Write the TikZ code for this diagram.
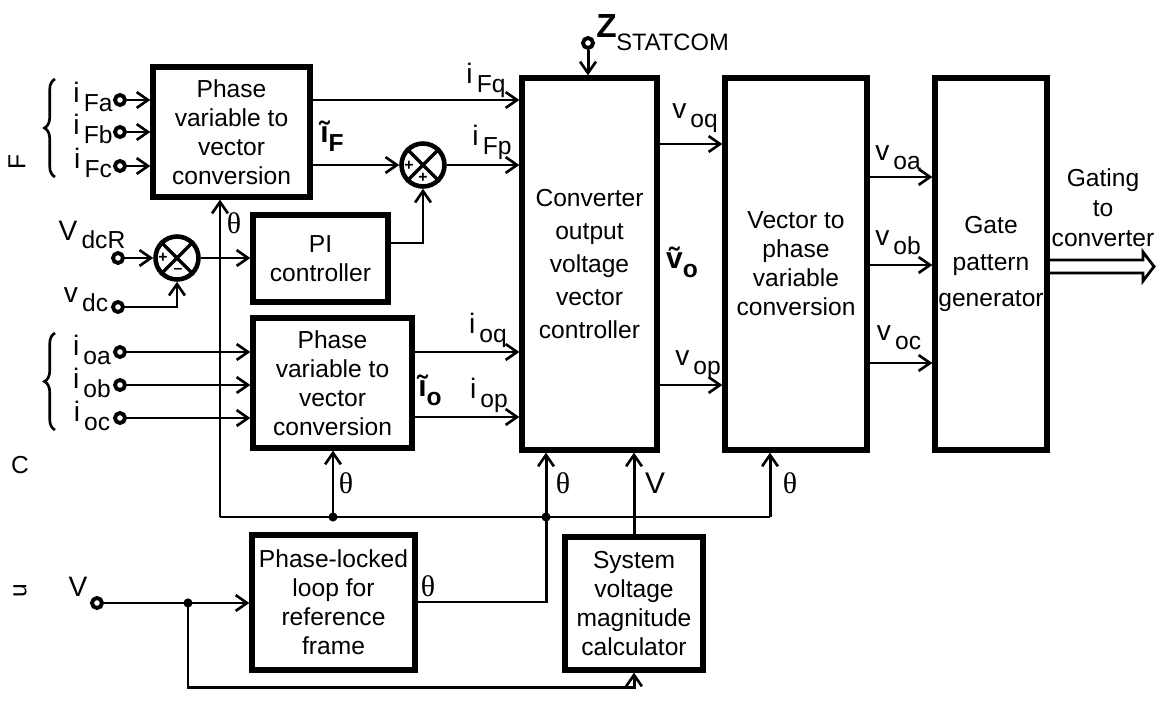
\documentclass[tikz,border=0pt]{standalone}
\usepackage{fontspec}
\setmainfont{Liberation Sans}
\newfontfamily\serifth{Liberation Serif}
\usetikzlibrary{arrows.meta,decorations.pathreplacing,calc}
\newcommand\lbl[2]{{\fontsize{16}{18}\selectfont #1}\,\raisebox{-5pt}{\fontsize{14}{16}\selectfont #2}}
\newcommand\tlbl[2]{{\fontsize{17}{18}\selectfont #1}\raisebox{-5pt}{\fontsize{14}{16}\selectfont #2}}
\newcommand\thet{{\serifth\fontsize{17}{19}\selectfont θ}}
\begin{document}
\begin{tikzpicture}[x=0.02cm,y=-0.02cm,
  box/.style={draw, line width=3pt, align=center, inner sep=0pt, font=\fontsize{14}{16.5}\selectfont},
  wire/.style={line width=1.7pt},
  thin/.style={line width=1.2pt},
  arr/.style={-{Straight Barb[length=6.5pt,width=9pt,line width=1.5pt]}},
  term/.style={circle, draw, line width=2.2pt, fill=white, minimum size=0.2cm, inner sep=0pt},
  junc/.style={circle, draw, line width=2.6pt, minimum size=0.86cm, inner sep=0pt},
  lab/.style={inner sep=0pt, font=\fontsize{14}{16.5}\selectfont},
  sign/.style={inner sep=0pt, font=\bfseries\fontsize{9}{10}\selectfont},
  brc/.style={line width=1.5pt, decorate, decoration={brace, amplitude=6pt}}]
\useasboundingbox (0,0) rectangle (1156,713);

% boxes
\node[box, minimum width=3.14cm, minimum height=2.6cm] (b1) at (231.5,132) {Phase\\variable to\\vector\\conversion};
\node[box, minimum width=2.7cm, minimum height=1.74cm] (pi) at (320.5,258.5) {PI\\controller};
\node[box, minimum width=3.18cm, minimum height=2.6cm] (b2) at (332.5,383) {Phase\\variable to\\vector\\conversion};
\node[box, minimum width=2.7cm, minimum height=7.44cm, font=\fontsize{14}{18.7}\selectfont] (cv) at (589.5,264) {Converter\\output\\voltage\\vector\\controller};
\node[box, minimum width=2.84cm, minimum height=7.44cm] (vp) at (796,264) {Vector to\\phase\\variable\\conversion};
\node[box, minimum width=2.24cm, minimum height=7.44cm, font=\fontsize{14}{21}\selectfont] (gt) at (991,264) {Gate\\pattern\\generator};
\node[box, minimum width=3.26cm, minimum height=2.7cm] (pll) at (333.5,602.5) {Phase-locked\\loop for\\reference\\frame};
\node[box, minimum width=2.76cm, minimum height=2.66cm] (sy) at (634,603.5) {System\\voltage\\magnitude\\calculator};

% summing junctions
\node[junc] (j1) at (177,258) {};
\draw[line width=2pt] (j1.north west) -- (j1.south east) (j1.north east) -- (j1.south west);
\node[sign] at (163,258) {+};
\node[sign] at (178,271) {--};
\node[junc] (j2) at (423,165) {};
\draw[line width=2pt] (j2.north west) -- (j2.south east) (j2.north east) -- (j2.south west);
\node[sign] at (409,166) {+};
\node[sign] at (423,178) {+};

% terminals
\node[term] (tFa) at (120,100) {};
\node[term] (tFb) at (120,132) {};
\node[term] (tFc) at (120,166) {};
\node[term] (tVr) at (118,258) {};
\node[term] (tVd) at (118,307) {};
\node[term] (toa) at (120,352) {};
\node[term] (tob) at (120,385) {};
\node[term] (toc) at (120,418) {};
\node[term] (tV) at (97,603) {};
\node[term] (tz) at (588,43) {};

% F inputs
\draw[wire,arr] (tFa) -- (tFa -| b1.west);
\draw[wire,arr] (tFb) -- (tFb -| b1.west);
\draw[wire,arr] (tFc) -- (tFc -| b1.west);
% box1 outputs
\draw[thin,arr] (b1.east |- 0,100) -- (cv.west |- 0,100);
\draw[wire,arr] (b1.east |- j2) -- (j2.west);
\draw[wire,arr] (j2.east) -- (cv.west |- j2);
% PI
\draw[wire,arr] (pi.east |- 0,243) -- (j2.south |- 0,243) -- (j2.south);
\draw[wire,arr] (tVr) -- (j1.west);
\draw[wire,arr] (j1.east) -- (pi.west |- j1);
\draw[wire,arr] (tVd) -- (j1.south |- tVd) -- (j1.south);
% C inputs
\draw[wire,arr] (toa) -- (toa -| b2.west);
\draw[wire,arr] (tob) -- (tob -| b2.west);
\draw[wire,arr] (toc) -- (toc -| b2.west);
\draw[wire,arr] (b2.east |- 0,352) -- (cv.west |- 0,352);
\draw[wire,arr] (b2.east |- 0,417) -- (cv.west |- 0,417);
% converter outputs
\draw[wire,arr] (cv.east |- 0,144) -- (vp.west |- 0,144);
\draw[thin,arr] (cv.east |- 0,385) -- (vp.west |- 0,385);
% vp outputs
\draw[wire,arr] (vp.east |- 0,177) -- (gt.west |- 0,177);
\draw[thin,arr] (vp.east |- 0,265) -- (gt.west |- 0,265);
\draw[thin,arr] (vp.east |- 0,363) -- (gt.west |- 0,363);
% gating output
\draw[line width=1.6pt, line join=miter] (gt.east |- 0,260) -- (1143,260) -- (1143,252) -- (1154,266.5) -- (1143,281) -- (1143,273) -- (gt.east |- 0,273);
% Z
\draw[wire,arr] (tz) -- (tz |- cv.north);

% theta bus
\coordinate (bL) at (220,517);
\coordinate (bR) at (770,517);
\coordinate (d1) at (333,517);
\coordinate (d2) at (546,517);
\draw[wire,arr] (bL) -- (bL |- b1.south);
\draw[wire] (bL) -- (bR);
\draw[wire,arr] (bR) -- (bR |- vp.south);
\draw[wire,arr] (d1) -- (d1 |- b2.south);
\fill (d1) circle (2.6pt);
\fill (d2) circle (2.6pt);
\draw[wire,arr] (pll.east |- 0,602) -- (d2 |- 0,602) -- (d2 |- cv.south);
\draw[wire,arr] (sy.north) -- (sy.north |- cv.south);
% V input
\coordinate (dv) at (188,603);
\draw[wire,arr] (tV) -- (pll.west |- tV);
\fill (dv) circle (2.6pt);
\draw[wire,arr] (dv) -- (188,687) -- (sy.south |- 0,687) -- (sy.south);

% braces
\draw[brc] (55,177) -- (55,79);
\draw[brc] (55,430) -- (55,333);

% side letters
\node[lab, rotate=90] (lF) at (17,162) {F};
\node[lab] (lC) at (20,465) {C};
\node[lab, rotate=90] (lu) at (20,591) {u};

% labels
\node[lab] (liFa) at (93,97) {\lbl{i}{Fa}};
\node[lab] (liFb) at (93,129) {\lbl{i}{Fb}};
\node[lab] (liFc) at (93,163) {\lbl{i}{Fc}};
\node[lab] (lioa) at (92,350) {\lbl{i}{oa}};
\node[lab] (liob) at (92,383) {\lbl{i}{ob}};
\node[lab] (lioc) at (92,416) {\lbl{i}{oc}};
\node[lab] (lVr) at (92,235) {\lbl{V}{dcR}};
\node[lab] (lVd) at (86,300) {\lbl{v}{dc}};
\node[lab] (lV) at (78,587) {\fontsize{16}{18}\selectfont V};
\node[lab] (lFq) at (486,80) {\lbl{i}{Fq}};
\node[lab] (lFp) at (492,142) {\lbl{i}{Fp}};
\node[lab] (liq) at (488,330) {\lbl{i}{oq}};
\node[lab] (lip) at (489,395) {\lbl{i}{op}};
\node[lab] (ltF) at (332,136) {\bfseries\tlbl{\~{\i}}{F}};
\node[lab] (lto) at (430,390) {\bfseries\tlbl{\~{\i}}{o}};
\node[lab] (ltv) at (682,262) {\bfseries\tlbl{\~{v}}{o}};
\node[lab] (lvoq) at (695,118) {\lbl{v}{oq}};
\node[lab] (lvop) at (698,365) {\lbl{v}{op}};
\node[lab] (lvoa) at (898,158) {\lbl{v}{oa}};
\node[lab] (lvob) at (898,243) {\lbl{v}{ob}};
\node[lab] (lvoc) at (899,338) {\lbl{v}{oc}};
\node[lab, anchor=west] (lZ) at (596,26) {\fontsize{19}{20}\selectfont\bfseries Z};
\node[lab, anchor=west] (lST) at (616,42) {\fontsize{13.5}{15}\selectfont STATCOM};
\node[lab, align=center, font=\fontsize{14}{17}\selectfont] (lgate) at (1103,208) {Gating\\to\\converter};
\node[lab] (th1) at (234,223) {\thet};
\node[lab] (th2) at (346,483) {\thet};
\node[lab] (th3) at (563,483) {\thet};
\node[lab] (th4) at (790,483) {\thet};
\node[lab] (th5) at (428,586) {\thet};
\node[lab] (lVm) at (655,483) {\fontsize{17}{19}\selectfont V};
\end{tikzpicture}
\end{document}
